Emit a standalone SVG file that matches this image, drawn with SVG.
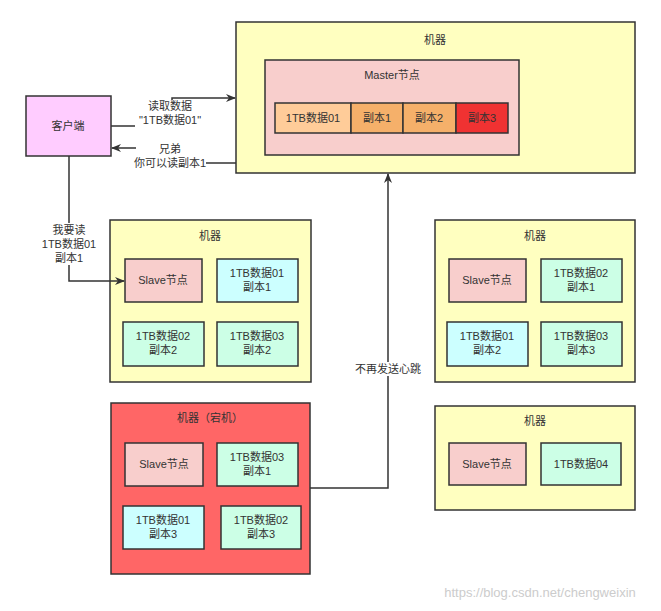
<svg xmlns="http://www.w3.org/2000/svg" width="661" height="611" viewBox="0 0 661 611">
<style>
rect{stroke:#333;stroke-width:1.5}
.m{fill:#FFFFC0}
.s{fill:#F8CECC}
.c{fill:#CCFFFF}
.g{fill:#CCFFE6}
text{font-family:"Liberation Sans","Noto Sans CJK SC",sans-serif;font-size:11px;fill:#333;text-anchor:middle}
.ln{fill:none;stroke:#333;stroke-width:1.5}
.bg{fill:#fff;stroke:none}
</style>
<defs><marker id="a" markerWidth="10" markerHeight="8" refX="9" refY="4" orient="auto" markerUnits="userSpaceOnUse"><path d="M0,0 L10,4 L0,8 L3,4 Z" fill="#333"/></marker></defs>
<rect width="661" height="611" fill="#fff" style="stroke:none"/>
<g id="top-machine">
<rect class="m" x="236" y="22" width="399" height="151"/>
<text x="435" y="44">机器</text>
<rect x="265" y="60" width="254" height="95" style="fill:#F8CECC"/>
<text x="392" y="79">Master节点</text>
<rect x="275" y="103" width="76" height="30" style="fill:#FFCC99"/><text x="313" y="122">1TB数据01</text>
<rect x="351" y="103" width="52" height="30" style="fill:#F5B06A"/><text x="377" y="122">副本1</text>
<rect x="403" y="103" width="53" height="30" style="fill:#F5B06A"/><text x="429" y="122">副本2</text>
<rect x="456" y="103" width="52" height="30" style="fill:#F03232"/><text x="482" y="122">副本3</text>
</g>
<g id="client"><rect x="26" y="96" width="85" height="60" style="fill:#FFCCFF"/><text x="68" y="130">客户端</text></g>
<g id="machine2">
<rect class="m" x="110" y="220" width="201" height="162"/>
<text x="210" y="240">机器</text>
<rect class="s" x="125" y="259" width="77" height="43"/><text x="163" y="284">Slave节点</text>
<rect class="c" x="217" y="259" width="81" height="43"/><text x="257" y="277">1TB数据01</text><text x="257" y="291">副本1</text>
<rect class="g" x="123" y="322" width="81" height="44"/><text x="163" y="340">1TB数据02</text><text x="163" y="354">副本2</text>
<rect class="g" x="217" y="322" width="81" height="44"/><text x="257" y="340">1TB数据03</text><text x="257" y="354">副本2</text>
</g>
<g id="machine-down">
<rect x="111" y="403" width="199" height="171" style="fill:#FF6666"/>
<text x="210" y="422">机器（宕机）</text>
<rect class="s" x="125" y="443" width="78" height="43"/><text x="164" y="468">Slave节点</text>
<rect class="g" x="217" y="443" width="81" height="43"/><text x="257" y="461">1TB数据03</text><text x="257" y="475">副本1</text>
<rect class="c" x="123" y="506" width="81" height="43"/><text x="163" y="524">1TB数据01</text><text x="163" y="538">副本3</text>
<rect class="g" x="221" y="506" width="80" height="43"/><text x="261" y="524">1TB数据02</text><text x="261" y="538">副本3</text>
</g>
<g id="machine3">
<rect class="m" x="435" y="220" width="200" height="162"/>
<text x="535" y="240">机器</text>
<rect class="s" x="449" y="259" width="77" height="43"/><text x="487" y="284">Slave节点</text>
<rect class="g" x="541" y="259" width="81" height="43"/><text x="581" y="277">1TB数据02</text><text x="581" y="291">副本1</text>
<rect class="c" x="447" y="322" width="81" height="44"/><text x="487" y="340">1TB数据01</text><text x="487" y="354">副本2</text>
<rect class="g" x="541" y="322" width="81" height="44"/><text x="581" y="340">1TB数据03</text><text x="581" y="354">副本3</text>
</g>
<g id="machine4">
<rect class="m" x="435" y="406" width="200" height="104"/>
<text x="535" y="425">机器</text>
<rect class="s" x="449" y="443" width="77" height="42"/><text x="487" y="468">Slave节点</text>
<rect class="g" x="541" y="443" width="80" height="42"/><text x="581" y="468">1TB数据04</text>
</g>
<g id="connectors">
<path class="ln" d="M111,126 H172 V98 H235" marker-end="url(#a)"/>
<rect class="bg" x="135" y="100" width="72" height="28"/>
<text x="170" y="110">读取数据</text><text x="170" y="124">"1TB数据01"</text>
<path class="ln" d="M236,163 H205 V148 H112" marker-end="url(#a)"/>
<rect class="bg" x="136" y="143" width="70" height="28"/>
<text x="170" y="153">兄弟</text><text x="170" y="167">你可以读副本1</text>
<path class="ln" d="M69,156 V281 H124" marker-end="url(#a)"/>
<rect class="bg" x="38" y="223" width="62" height="42"/>
<text x="69" y="234">我要读</text><text x="69" y="248">1TB数据01</text><text x="69" y="262">副本1</text>
<path class="ln" d="M310,488 H388 V174" marker-end="url(#a)"/>
<rect class="bg" x="353" y="362" width="70" height="14"/>
<text x="388" y="373">不再发送心跳</text>
</g>
<text x="540" y="597" style="font-size:13px;fill:#ccc">https://blog.csdn.net/chengweixin</text>
</svg>
